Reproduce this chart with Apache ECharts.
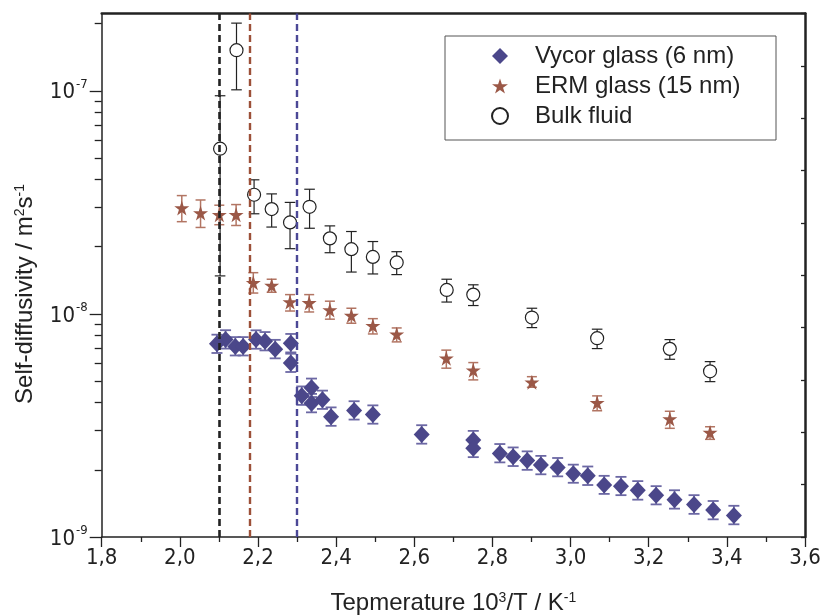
<!DOCTYPE html>
<html>
<head>
<meta charset="utf-8">
<script src="https://cdn.jsdelivr.net/npm/echarts@6/dist/echarts.min.js"></script>
<style>
  html, body { margin: 0; padding: 0; background: #fff; }
  #chart { width: 820px; height: 616px; }
</style>
</head>
<body>
<div id="chart"></div>
<script>
// Inverse temperature 10^3/T (K^-1) and self-diffusivity (m^2 s^-1) with error limits.

const vycorName = 'Vycor glass (6 nm)';
const vycorT    = [2.095, 2.117, 2.142, 2.162, 2.195, 2.218, 2.244, 2.284, 2.284, 2.312, 2.337, 2.337,
                   2.365, 2.387, 2.446, 2.494, 2.619, 2.751, 2.751, 2.819, 2.853, 2.889, 2.924, 2.967,
                   3.007, 3.044, 3.086, 3.129, 3.172, 3.219, 3.266, 3.316, 3.365, 3.418];
const vycorD    = [7.34e-9, 7.68e-9, 7.15e-9, 7.15e-9, 7.67e-9, 7.54e-9, 6.95e-9, 7.39e-9, 6.03e-9, 4.30e-9, 4.66e-9, 3.98e-9,
                   4.12e-9, 3.46e-9, 3.69e-9, 3.54e-9, 2.88e-9, 2.72e-9, 2.50e-9, 2.37e-9, 2.29e-9, 2.20e-9, 2.10e-9, 2.05e-9,
                   1.92e-9, 1.88e-9, 1.71e-9, 1.69e-9, 1.62e-9, 1.54e-9, 1.47e-9, 1.40e-9, 1.32e-9, 1.25e-9];
const vycorLow  = [6.68e-9, 6.99e-9, 6.51e-9, 6.51e-9, 6.98e-9, 6.86e-9, 6.32e-9, 6.72e-9, 5.49e-9, 3.91e-9, 4.24e-9, 3.62e-9,
                   3.75e-9, 3.15e-9, 3.36e-9, 3.22e-9, 2.62e-9, 2.48e-9, 2.28e-9, 2.16e-9, 2.08e-9, 2.00e-9, 1.91e-9, 1.87e-9,
                   1.75e-9, 1.71e-9, 1.56e-9, 1.54e-9, 1.47e-9, 1.40e-9, 1.34e-9, 1.27e-9, 1.20e-9, 1.14e-9];
const vycorHigh = [8.07e-9, 8.45e-9, 7.87e-9, 7.87e-9, 8.44e-9, 8.29e-9, 7.65e-9, 8.13e-9, 6.63e-9, 4.73e-9, 5.13e-9, 4.38e-9,
                   4.53e-9, 3.81e-9, 4.06e-9, 3.89e-9, 3.17e-9, 2.99e-9, 2.75e-9, 2.61e-9, 2.52e-9, 2.42e-9, 2.31e-9, 2.26e-9,
                   2.11e-9, 2.07e-9, 1.88e-9, 1.86e-9, 1.78e-9, 1.69e-9, 1.62e-9, 1.54e-9, 1.45e-9, 1.38e-9];

const ermName = 'ERM glass (15 nm)';
const ermT    = [2.005, 2.053, 2.101, 2.144, 2.188, 2.235, 2.282, 2.331, 2.384, 2.439, 2.494, 2.555,
                 2.682, 2.751, 2.901, 3.068, 3.254, 3.357];
const ermD    = [2.98e-8, 2.83e-8, 2.78e-8, 2.78e-8, 1.38e-8, 1.34e-8, 1.13e-8, 1.12e-8, 1.04e-8, 9.83e-9, 8.84e-9, 8.11e-9,
                 6.33e-9, 5.59e-9, 4.94e-9, 4.00e-9, 3.38e-9, 2.94e-9];
const ermLow  = [2.59e-8, 2.44e-8, 2.51e-8, 2.49e-8, 1.24e-8, 1.25e-8, 1.03e-8, 1.02e-8, 9.47e-9, 9.08e-9, 8.13e-9, 7.49e-9,
                 5.71e-9, 5.06e-9, 4.69e-9, 3.68e-9, 3.07e-9, 2.74e-9];
const ermHigh = [3.39e-8, 3.24e-8, 3.07e-8, 3.09e-8, 1.53e-8, 1.43e-8, 1.22e-8, 1.22e-8, 1.14e-8, 1.06e-8, 9.52e-9, 8.65e-9,
                 6.88e-9, 6.05e-9, 5.23e-9, 4.29e-9, 3.66e-9, 3.12e-9];

const bulkName = 'Bulk fluid';
const bulkT    = [2.103, 2.145, 2.190, 2.235, 2.282, 2.332, 2.384, 2.439, 2.494, 2.555, 2.683, 2.751,
                  2.901, 3.068, 3.254, 3.357];
const bulkD    = [5.50e-8, 1.52e-7, 3.42e-8, 2.95e-8, 2.57e-8, 3.02e-8, 2.18e-8, 1.95e-8, 1.80e-8, 1.70e-8, 1.28e-8, 1.22e-8,
                  9.63e-9, 7.78e-9, 6.97e-9, 5.53e-9];
const bulkLow  = [1.48e-8, 1.01e-7, 2.81e-8, 2.45e-8, 1.96e-8, 2.42e-8, 1.88e-8, 1.54e-8, 1.51e-8, 1.50e-8, 1.13e-8, 1.09e-8,
                  8.68e-9, 6.99e-9, 6.26e-9, 4.97e-9];
const bulkHigh = [9.50e-8, 2.01e-7, 3.99e-8, 3.45e-8, 3.16e-8, 3.62e-8, 2.48e-8, 2.34e-8, 2.11e-8, 1.90e-8, 1.43e-8, 1.35e-8,
                  1.06e-8, 8.54e-9, 7.67e-9, 6.11e-9];

// Vertical dashed markers (10^3/T)
const markerT = [2.100, 2.177, 2.302];

// Axis ranges and ticks
const xMin = 1.8, xMax = 3.6, xStep = 0.2;
const yMin = 1e-9, yMax = 2.22e-7;
const yMajorTicks = [1e-9, 1e-8, 1e-7];
const yMinorTicks = [2e-9, 3e-9, 4e-9, 5e-9, 6e-9, 7e-9, 8e-9, 9e-9,
                     2e-8, 3e-8, 4e-8, 5e-8, 6e-8, 7e-8, 8e-8, 9e-8, 2e-7];

const INK = '#222';
const VYCOR = '#4b478a';
const ERM = '#9b5847';
const NARROW = '"Liberation Sans Narrow", "DejaVu Sans Condensed", "Liberation Sans", Arial, sans-serif';
const SANS = '"Liberation Sans", Arial, sans-serif';
const STAR = 'path://M50,0 L61.2,34.5 L97.6,34.5 L68.2,55.9 L79.4,90.5 L50,69.1 L20.6,90.5 L31.8,55.9 L2.4,34.5 L38.8,34.5 Z';

function zip3(a, b, c) { return a.map((v, i) => [v, b[i], c[i]]); }

function errorBars(capHalf, color, width) {
  return function (params, api) {
    const x = api.value(0);
    const lo = api.coord([x, api.value(1)]);
    const hi = api.coord([x, api.value(2)]);
    const style = { stroke: color, lineWidth: width, fill: null };
    return {
      type: 'group',
      children: [
        { type: 'line', shape: { x1: lo[0], y1: lo[1], x2: hi[0], y2: hi[1] }, style: style },
        { type: 'line', shape: { x1: lo[0] - capHalf, y1: lo[1], x2: lo[0] + capHalf, y2: lo[1] }, style: style },
        { type: 'line', shape: { x1: hi[0] - capHalf, y1: hi[1], x2: hi[0] + capHalf, y2: hi[1] }, style: style }
      ]
    };
  };
}

const supRich = {
  b: { fontFamily: NARROW, fontSize: 22, color: INK, lineHeight: 26, verticalAlign: 'bottom' },
  s: { fontFamily: NARROW, fontSize: 13, color: INK, lineHeight: 26, verticalAlign: 'top', padding: [0, 0, 0, 1] }
};

const titleRich = {
  s: { fontFamily: SANS, fontSize: 14, color: INK, verticalAlign: 'top', lineHeight: 12, padding: [0, 0, 10, 0] }
};

const chart = echarts.init(document.getElementById('chart'), null, { renderer: 'canvas' });

chart.setOption({
  animation: false,
  backgroundColor: '#fff',
  grid: { left: 101.7, right: 15, top: 13.5, bottom: 79, containLabel: false, outerBoundsMode: 'none' },
  xAxis: [
    {
      type: 'value', position: 'bottom', min: xMin, max: xMax, interval: xStep,
      axisLine: { show: true, lineStyle: { color: INK, width: 1.5 } },
      axisTick: { show: true, inside: false, length: 10, lineStyle: { color: INK, width: 1.3 } },
      minorTick: { show: true, splitNumber: 2, length: 5, lineStyle: { color: INK, width: 1.3 } },
      splitLine: { show: false },
      axisLabel: {
        margin: 10, fontFamily: NARROW, fontSize: 22, color: INK,
        formatter: v => v.toFixed(1).replace('.', ',')
      },
      name: 'Tepmerature 10{s|3}/T / K{s|-1}',
      nameLocation: 'middle', nameGap: 54,
      nameTextStyle: { fontFamily: SANS, fontSize: 24, color: INK, rich: titleRich }
    },
    {
      type: 'value', position: 'top', min: xMin, max: xMax,
      axisLine: { show: true, lineStyle: { color: INK, width: 2.5 } },
      axisTick: { show: false }, axisLabel: { show: false }, splitLine: { show: false }
    }
  ],
  yAxis: [
    {
      type: 'log', logBase: 10, position: 'left', min: yMin, max: yMax,
      axisLine: { show: true, lineStyle: { color: INK, width: 1.5 } },
      axisTick: { show: true, inside: false, length: 12, customValues: yMajorTicks, lineStyle: { color: INK, width: 1.3 } },
      splitLine: { show: false },
      axisLabel: {
        margin: 14, customValues: yMajorTicks,
        formatter: v => '{b|10}{s|' + Math.round(Math.log10(v)) + '}',
        rich: supRich
      }
    },
    {
      type: 'log', logBase: 10, position: 'left', min: yMin, max: yMax,
      axisLine: { show: false },
      axisTick: { show: true, inside: false, length: 7, customValues: yMinorTicks, lineStyle: { color: INK, width: 1.3 } },
      axisLabel: { show: false }, splitLine: { show: false }
    },
    {
      type: 'value', position: 'right', min: 0, max: 10, interval: 1,
      axisLine: { show: true, lineStyle: { color: INK, width: 2.5 } },
      axisTick: { show: true, inside: true, length: 4, lineStyle: { color: INK, width: 1.3 } },
      axisLabel: { show: false }, splitLine: { show: false }
    }
  ],
  legend: {
    orient: 'vertical', left: 491, top: 43, padding: 0,
    itemWidth: 16, itemHeight: 16, itemGap: 4,
    selectedMode: false,
    textStyle: { fontFamily: SANS, fontSize: 24, color: INK, lineHeight: 26, padding: [0, 0, 0, 22] },
    data: [
      { name: vycorName, icon: 'diamond' },
      { name: ermName, icon: STAR },
      { name: bulkName, icon: 'circle' }
    ]
  },
  graphic: [
    {
      type: 'rect', left: 442.5, top: 33.5, z: 50,
      shape: { width: 331, height: 104 },
      style: { fill: null, stroke: '#555', lineWidth: 1 }
    },
    {
      type: 'text', x: 25, y: 294, rotation: Math.PI / 2, z: 50,
      style: {
        text: 'Self-diffusivity / m{s|2}s{s|-1}',
        fontFamily: SANS, fontSize: 24, fill: INK,
        align: 'center', verticalAlign: 'middle',
        rich: titleRich
      }
    }
  ],
  series: [
    {
      type: 'custom', name: 'bulk-err', silent: true, z: 2,
      renderItem: errorBars(5.3, INK, 1.2),
      encode: { x: 0, y: [1, 2] },
      data: zip3(bulkT, bulkLow, bulkHigh)
    },
    {
      type: 'custom', name: 'erm-err', silent: true, z: 2,
      renderItem: errorBars(5, '#b27563', 1.5),
      encode: { x: 0, y: [1, 2] },
      data: zip3(ermT, ermLow, ermHigh)
    },
    {
      type: 'custom', name: 'vycor-err', silent: true, z: 2,
      renderItem: errorBars(5.5, '#6c68a4', 1.8),
      encode: { x: 0, y: [1, 2] },
      data: zip3(vycorT, vycorLow, vycorHigh)
    },
    {
      type: 'scatter', name: bulkName, z: 3,
      symbol: 'circle', symbolSize: 13,
      itemStyle: { color: '#fff', borderColor: INK, borderWidth: 1.2, opacity: 1 },
      data: bulkT.map((t, i) => [t, bulkD[i]])
    },
    {
      type: 'scatter', name: ermName, z: 3,
      symbol: STAR, symbolSize: 15,
      itemStyle: { color: ERM, opacity: 1 },
      data: ermT.map((t, i) => [t, ermD[i]])
    },
    {
      type: 'scatter', name: vycorName, z: 4,
      symbol: 'diamond', symbolSize: [16, 17],
      itemStyle: { color: VYCOR, opacity: 1 },
      data: vycorT.map((t, i) => [t, vycorD[i]]),
      markLine: {
        silent: true, symbol: ['none', 'none'], animation: false,
        label: { show: false },
        data: [
          { xAxis: markerT[0], lineStyle: { color: INK, width: 2.6, type: [7, 4] } },
          { xAxis: markerT[1], lineStyle: { color: '#9c5038', width: 2.4, type: [7, 4] } },
          { xAxis: markerT[2], lineStyle: { color: '#4b4896', width: 2.4, type: [7, 4] } }
        ]
      }
    }
  ]
});
</script>
</body>
</html>
